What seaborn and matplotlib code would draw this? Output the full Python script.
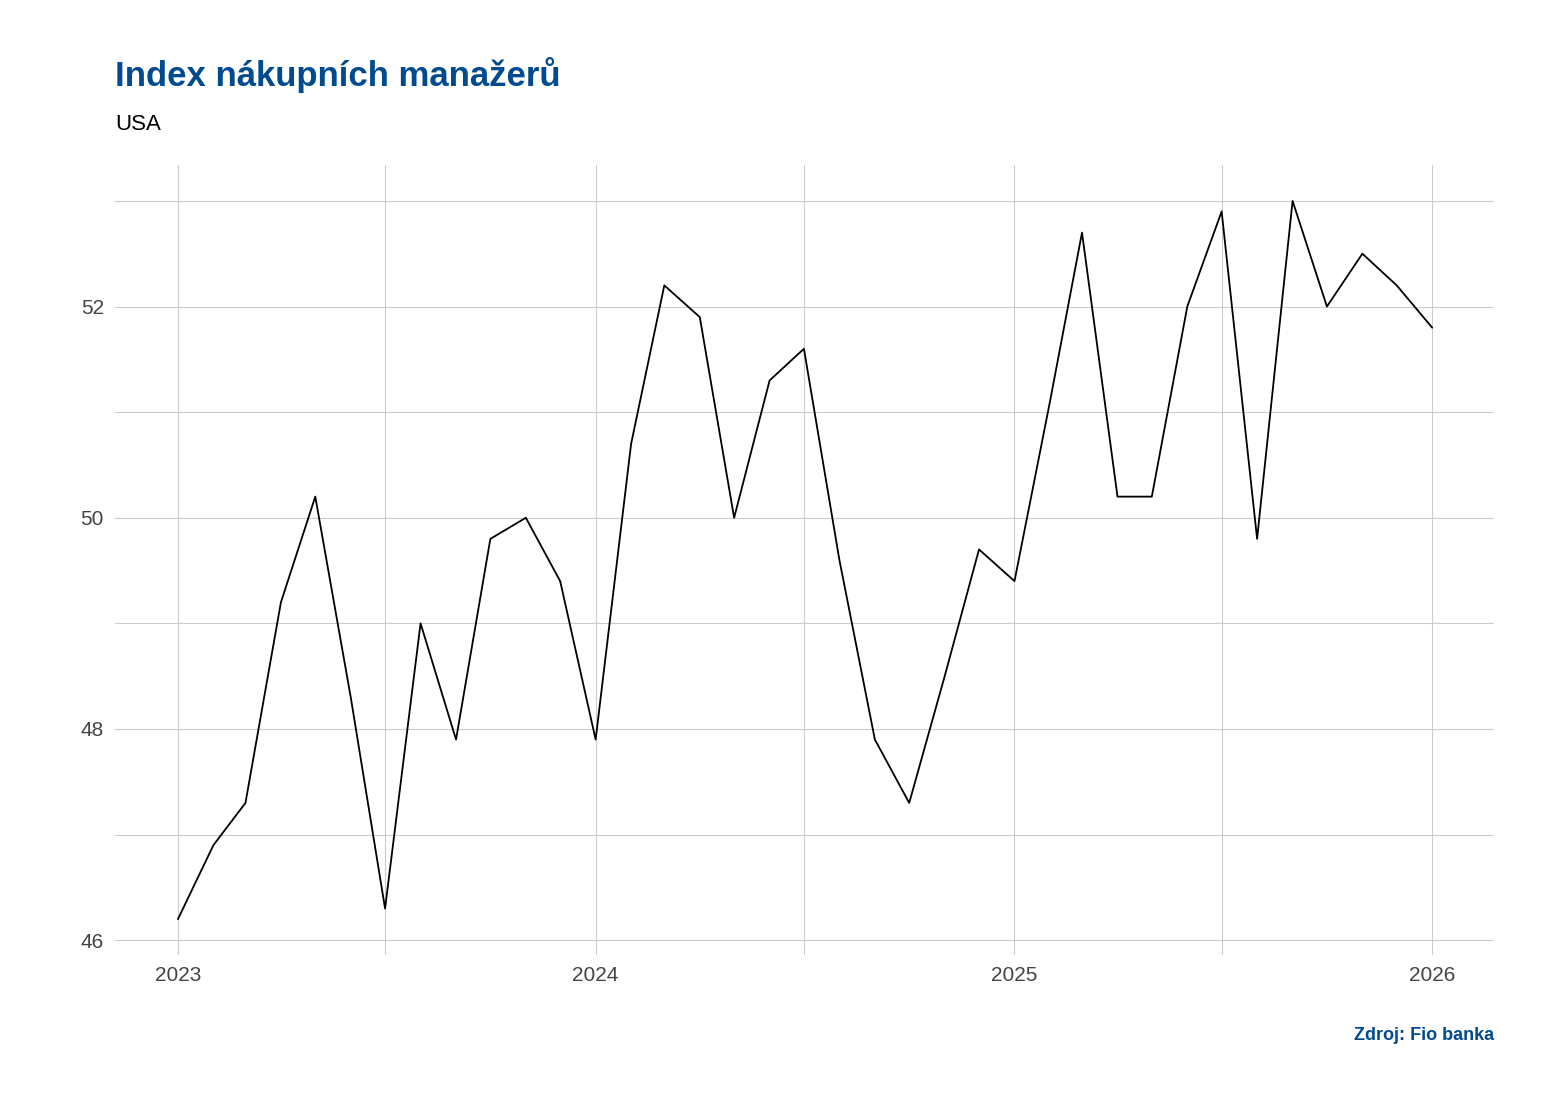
import numpy as np
import pandas as pd
import matplotlib.pyplot as plt
import matplotlib.dates as mdates
import seaborn as sns

# Data
dates = pd.date_range("2023-01-01", "2026-01-01", freq="MS")
pmi = [46.2, 46.9, 47.3, 49.2, 50.2, 48.3, 46.3, 49.0, 47.9, 49.8, 50.0, 49.4,
       47.9, 50.7, 52.2, 51.9, 50.0, 51.3, 51.6, 49.6, 47.9, 47.3, 48.5, 49.7,
       49.4, 51.1, 52.7, 50.2, 50.2, 52.0, 52.9, 49.8, 53.0, 52.0, 52.5, 52.2,
       51.8]
df = pd.DataFrame({"date": dates, "pmi": pmi})

sns.set_style("white")
plt.rcParams["font.family"] = ["Liberation Sans", "DejaVu Sans"]

fig = plt.figure(figsize=(15.54, 11.05), dpi=100)
ax = fig.add_axes([115 / 1554, 1 - 955 / 1105, 1379 / 1554, 790 / 1105])

sns.lineplot(data=df, x="date", y="pmi", color="black", linewidth=1.3, ax=ax)

ax.set_ylim(45.86, 53.34)
ax.set_xlim(pd.Timestamp("2022-11-07"), pd.Timestamp("2026-02-24"))
ax.set_yticks([46, 48, 50, 52])
ax.set_yticks([47, 49, 51, 53], minor=True)
years = [pd.Timestamp(f"{y}-01-01") for y in range(2023, 2027)]
ax.set_xticks(years)
ax.set_xticklabels([str(y) for y in range(2023, 2027)])
ax.set_xticks([pd.Timestamp(f"{y}-07-01") for y in range(2023, 2026)], minor=True)
ax.grid(which="both", color="#cccccc", linewidth=0.8)
for s in ax.spines.values():
    s.set_visible(False)
ax.tick_params(which="both", length=0, labelsize=15, colors="#444444", pad=8)
ax.set_xlabel("")
ax.set_ylabel("")

fig.text(115 / 1554, 1 - 75 / 1105, "Index nákupních manažerů", fontsize=25,
         fontweight="bold", color="#004a8f", va="center")
fig.text(115 / 1554, 1 - 124 / 1105, "USA", fontsize=16, color="black", va="center")
fig.text(1494 / 1554, 1 - 1036 / 1105, "Zdroj: Fio banka", fontsize=13,
         fontweight="bold", color="#004a8f", ha="right", va="center")

fig.savefig("out.png", dpi=100)
